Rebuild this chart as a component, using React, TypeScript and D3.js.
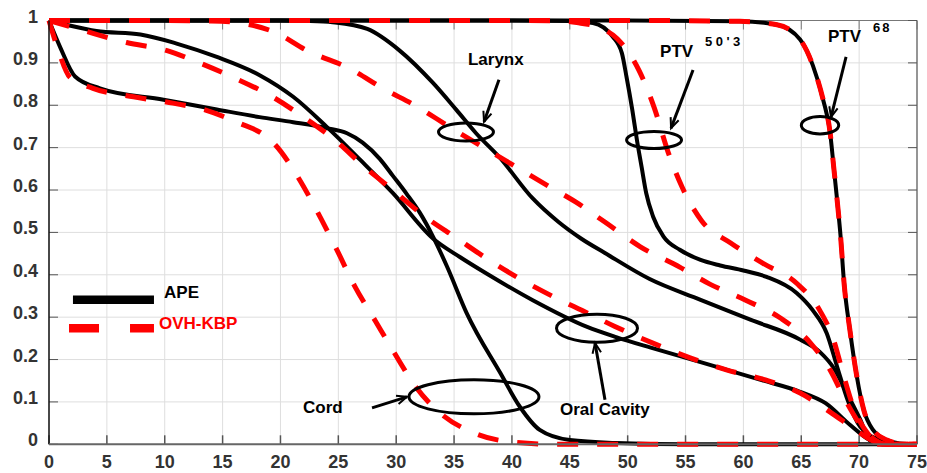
import React from "react";
import * as d3 from "d3";

const W = 927;
const H = 473;

const xTicks = [0, 5, 10, 15, 20, 25, 30, 35, 40, 45, 50, 55, 60, 65, 70, 75];
const yTicks = [0, 0.1, 0.2, 0.3, 0.4, 0.5, 0.6, 0.7, 0.8, 0.9, 1];
const yTickLabels = ["0", "0.1", "0.2", "0.3", "0.4", "0.5", "0.6", "0.7", "0.8", "0.9", "1"];

// APE (black, solid)
const apePTV68X = [0, 50, 59.7, 62.9, 64.9, 66, 66.9, 67.5, 67.8, 68.1, 68.4, 68.7, 69.2, 69.8, 70.4, 71.2, 72.4, 73.5, 75];
const apePTV68Y = [1, 1, 0.998, 0.99, 0.955, 0.894, 0.812, 0.734, 0.655, 0.576, 0.49, 0.38, 0.27, 0.16, 0.081, 0.034, 0.01, 0.002, 0];
const apePTV50X = [0, 20, 40, 45, 47, 48.7, 49.5, 49.9, 50.4, 50.8, 51.2, 51.6, 52.2, 53.1, 54.5, 56.3, 58, 60, 62, 64.6, 66, 67.2, 68.1, 69, 70.1, 71.8, 73, 75];
const apePTV50Y = [1, 1, 1, 0.999, 0.994, 0.962, 0.923, 0.867, 0.789, 0.718, 0.655, 0.593, 0.537, 0.49, 0.459, 0.435, 0.422, 0.41, 0.395, 0.357, 0.316, 0.262, 0.183, 0.105, 0.041, 0.01, 0, 0];
const apeLarynxX = [0, 5, 10, 15, 20, 22.5, 24.5, 27.5, 30.3, 33.2, 35.2, 36.9, 38.9, 41.8, 44, 46, 48, 51.9, 56.3, 60.6, 64.9, 66.6, 67.9, 68.8, 70.1, 70.9, 72, 75];
const apeLarynxY = [1, 1, 1, 1, 1, 0.999, 0.996, 0.98, 0.929, 0.852, 0.789, 0.734, 0.678, 0.58, 0.525, 0.485, 0.452, 0.39, 0.341, 0.294, 0.247, 0.218, 0.176, 0.128, 0.058, 0.01, 0, 0];
const apeOralX = [0, 1.5, 4.1, 7.9, 11.1, 14.5, 18.2, 21.1, 24, 26.9, 29.7, 33.2, 35.5, 37.8, 41.8, 46.5, 49, 52, 56.3, 61.5, 64.9, 67.1, 69.2, 70.9, 72, 75];
const apeOralY = [1, 0.99, 0.975, 0.967, 0.945, 0.914, 0.871, 0.82, 0.749, 0.671, 0.593, 0.485, 0.442, 0.403, 0.34, 0.277, 0.253, 0.228, 0.194, 0.152, 0.124, 0.097, 0.046, 0.01, 0, 0];
const apeCordX = [0, 1, 2.25, 4.4, 9.9, 14.5, 18.2, 21.1, 24, 25.75, 27.1, 28.6, 29.7, 30.9, 32.05, 33.2, 34.4, 36.1, 39, 40.7, 42.4, 45, 49, 55, 75];
const apeCordY = [1, 0.935, 0.868, 0.84, 0.813, 0.79, 0.772, 0.76, 0.746, 0.734, 0.712, 0.673, 0.634, 0.591, 0.546, 0.489, 0.419, 0.309, 0.168, 0.088, 0.034, 0.01, 0.003, 0, 0];

// OVH-KBP (red, dashed)
const kbpPTV68X = [0, 50, 59.7, 62.9, 64.9, 66, 66.9, 67.5, 67.8, 68.1, 68.4, 68.7, 69.2, 69.8, 70.4, 71.2, 72.4, 73.5, 75];
const kbpPTV68Y = [1, 1, 0.998, 0.99, 0.955, 0.894, 0.812, 0.734, 0.655, 0.576, 0.49, 0.38, 0.27, 0.16, 0.081, 0.034, 0.01, 0.002, 0];
const kbpPTV50X = [0, 40, 44, 45.6, 47.6, 49.1, 51, 52.3, 53.5, 54.7, 56.4, 58.9, 61.7, 64.6, 66.6, 67.8, 68.6, 69.5, 70.7, 72, 73, 75];
const kbpPTV50Y = [1, 1, 0.999, 0.995, 0.983, 0.957, 0.881, 0.794, 0.689, 0.607, 0.527, 0.475, 0.427, 0.38, 0.316, 0.246, 0.168, 0.088, 0.027, 0.003, 0, 0];
const kbpLarynxX = [0, 10, 14, 15.9, 19.7, 22.3, 26.1, 28.9, 31.8, 34.6, 37.5, 40.4, 43.3, 45.5, 48, 51.1, 54.5, 57.1, 60.2, 63.2, 65.8, 67.5, 68.8, 70.1, 71.4, 72.5, 75];
const kbpLarynxY = [1, 1, 0.999, 0.996, 0.97, 0.929, 0.885, 0.839, 0.797, 0.749, 0.701, 0.654, 0.607, 0.572, 0.525, 0.466, 0.418, 0.378, 0.34, 0.298, 0.239, 0.175, 0.105, 0.046, 0.01, 0, 0];
const kbpOralX = [0, 2.9, 6.7, 10.2, 13, 15.9, 19.3, 22, 24.7, 27.2, 29.8, 32.4, 35.2, 37.9, 40.4, 43.6, 46.5, 48.9, 52.6, 55.4, 58.6, 61.9, 64.9, 67.5, 69.7, 71.5, 73, 75];
const kbpOralY = [1, 0.977, 0.948, 0.929, 0.9, 0.866, 0.82, 0.772, 0.718, 0.656, 0.598, 0.539, 0.487, 0.437, 0.395, 0.348, 0.31, 0.278, 0.234, 0.204, 0.175, 0.152, 0.121, 0.076, 0.034, 0.005, 0, 0];
const kbpCordX = [0, 0.8, 1.8, 3.8, 7.3, 10.7, 13.6, 16.5, 18.3, 19.4, 21.5, 23.2, 24.8, 26.4, 28.2, 29.9, 31.7, 33.7, 36.8, 40.1, 44, 75];
const kbpCordY = [1, 0.93, 0.866, 0.84, 0.82, 0.805, 0.788, 0.757, 0.735, 0.711, 0.631, 0.548, 0.463, 0.374, 0.291, 0.213, 0.135, 0.076, 0.026, 0.005, 0, 0];

const apeSeries = [
  [apePTV68X, apePTV68Y],
  [apePTV50X, apePTV50Y],
  [apeLarynxX, apeLarynxY],
  [apeOralX, apeOralY],
  [apeCordX, apeCordY],
];
const kbpSeries = [
  [kbpPTV68X, kbpPTV68Y],
  [kbpPTV50X, kbpPTV50Y],
  [kbpLarynxX, kbpLarynxY],
  [kbpOralX, kbpOralY],
  [kbpCordX, kbpCordY],
];

// annotations in data units
const ellipses = [
  { x: 36.03, y: 0.737, rx: 27.5, ry: 9 },
  { x: 52.28, y: 0.718, rx: 27.5, ry: 8.5 },
  { x: 66.62, y: 0.753, rx: 18.7, ry: 8.7 },
  { x: 36.72, y: 0.112, rx: 65, ry: 17 },
  { x: 47.35, y: 0.274, rx: 40.5, ry: 14 },
];
const arrows = [
  { x1: 38.88, y1: 0.86, x2: 37.59, y2: 0.761 },
  { x1: 55.65, y1: 0.883, x2: 53.75, y2: 0.746 },
  { x1: 68.87, y1: 0.914, x2: 67.57, y2: 0.772 },
  { x1: 27.91, y1: 0.086, x2: 30.93, y2: 0.112 },
  { x1: 48.04, y1: 0.105, x2: 47.18, y2: 0.239 },
];
const labels = [
  { text: "Larynx", x: 36.2, y: 0.895, size: 17 },
  { text: "PTV", x: 52.8, y: 0.914, size: 17 },
  { text: "50'3", x: 56.68, y: 0.94, size: 13, spacing: 3.5 },
  { text: "PTV", x: 67.31, y: 0.949, size: 17 },
  { text: "68", x: 71.2, y: 0.973, size: 13, spacing: 2 },
  { text: "Cord", x: 21.95, y: 0.074, size: 17 },
  { text: "Oral Cavity", x: 44.15, y: 0.069, size: 17 },
];
const legendItems = ["APE", "OVH-KBP"];

export default function App() {
  const x = d3.scaleLinear().domain([0, 75]).range([49, 917]);
  const y = d3.scaleLinear().domain([0, 1]).range([444.3, 20.5]);
  const line = (xs: number[], ys: number[]) =>
    d3
      .line<number>()
      .x((_, i) => x(xs[i]))
      .y((_, i) => y(ys[i]))
      .curve(d3.curveMonotoneX)(xs) || "";

  const font = "'Liberation Sans', Arial, sans-serif";
  const [x0, x1] = x.range();
  const [y0, y1] = y.range();

  const arrowHead = (a: { x1: number; y1: number; x2: number; y2: number }) => {
    const X1 = x(a.x1), Y1 = y(a.y1), X2 = x(a.x2), Y2 = y(a.y2);
    const ang = Math.atan2(Y2 - Y1, X2 - X1);
    const L = 11, s = 0.4;
    return `M${X2 - L * Math.cos(ang - s)},${Y2 - L * Math.sin(ang - s)}L${X2},${Y2}L${X2 - L * Math.cos(ang + s)},${Y2 - L * Math.sin(ang + s)}`;
  };

  return (
    <svg width={W} height={H} style={{ position: "absolute", left: 0, top: 0, background: "#fff" }} fontFamily={font}>
      <rect x={0} y={0} width={W} height={H} fill="#fff" />
      {/* grid */}
      {xTicks.map((t) => (
        <line key={"gx" + t} x1={x(t)} x2={x(t)} y1={y1} y2={y0} stroke="#dedede" strokeWidth={1} />
      ))}
      {yTicks.map((t) => (
        <line key={"gy" + t} x1={x0} x2={x1} y1={y(t)} y2={y(t)} stroke="#dedede" strokeWidth={1} />
      ))}
      {/* box */}
      <line x1={x1} x2={x1} y1={y1} y2={y0} stroke="#777" strokeWidth={1.5} />
      <line x1={x0} x2={x1} y1={y1} y2={y1} stroke="#777" strokeWidth={1} />
      {/* ticks */}
      {xTicks.map((t) => (
        <g key={"tx" + t}>
          <line x1={x(t)} x2={x(t)} y1={y0} y2={y0 - 9} stroke="#555" strokeWidth={1.5} />
          <line x1={x(t)} x2={x(t)} y1={y1} y2={y1 + 9} stroke="#777" strokeWidth={1} />
        </g>
      ))}
      {yTicks.map((t) => (
        <g key={"ty" + t}>
          <line x1={x0} x2={x0 + 9} y1={y(t)} y2={y(t)} stroke="#555" strokeWidth={1} />
          <line x1={x1} x2={x1 - 9} y1={y(t)} y2={y(t)} stroke="#555" strokeWidth={1} />
        </g>
      ))}
      {/* curves */}
      {apeSeries.map(([xs, ys], i) => (
        <path key={"a" + i} d={line(xs, ys)} fill="none" stroke="#000" strokeWidth={4} />
      ))}
      {kbpSeries.map(([xs, ys], i) => (
        <path key={"k" + i} d={line(xs, ys)} fill="none" stroke="#ff0000" strokeWidth={5} strokeDasharray="21,19" />
      ))}
      {/* axes lines */}
      <line x1={x0} x2={x0} y1={y1} y2={y0} stroke="#111" strokeWidth={1.5} />
      <line x1={x0} x2={x1} y1={y0} y2={y0} stroke="#666" strokeWidth={2} />
      {/* tick labels */}
      {xTicks.map((t) => (
        <text key={"lx" + t} x={x(t)} y={468} textAnchor="middle" fontSize={18} fontWeight="bold" fill="#333">
          {t}
        </text>
      ))}
      {yTicks.map((t, i) => (
        <text key={"ly" + t} x={38} y={y(t) + 2} textAnchor="end" fontSize={18} fontWeight="bold" fill="#333">
          {yTickLabels[i]}
        </text>
      ))}
      {/* annotations */}
      {ellipses.map((e, i) => (
        <ellipse key={"e" + i} cx={x(e.x)} cy={y(e.y)} rx={e.rx} ry={e.ry} fill="none" stroke="#000" strokeWidth={3} />
      ))}
      {arrows.map((a, i) => (
        <g key={"ar" + i}>
          <line x1={x(a.x1)} y1={y(a.y1)} x2={x(a.x2)} y2={y(a.y2)} stroke="#000" strokeWidth={3} />
          <path d={arrowHead(a)} fill="none" stroke="#000" strokeWidth={2} />
        </g>
      ))}
      {labels.map((l, i) => (
        <text key={"t" + i} x={x(l.x)} y={y(l.y)} fontSize={l.size} fontWeight="bold" fill="#000" letterSpacing={l.spacing || 0}>
          {l.text}
        </text>
      ))}
      {/* legend */}
      <line x1={x(2.07)} x2={x(9.07)} y1={y(0.341)} y2={y(0.341)} stroke="#000" strokeWidth={8.5} />
      <line x1={x(1.73)} x2={x(9.07)} y1={y(0.274)} y2={y(0.274)} stroke="#ff0000" strokeWidth={8.5} strokeDasharray="30,31" />
      <text x={x(9.94)} y={y(0.345)} fontSize={17} fontWeight="bold" fill="#000">
        {legendItems[0]}
      </text>
      <text x={x(9.5)} y={y(0.272)} fontSize={17} fontWeight="bold" fill="#ff0000">
        {legendItems[1]}
      </text>
    </svg>
  );
}
